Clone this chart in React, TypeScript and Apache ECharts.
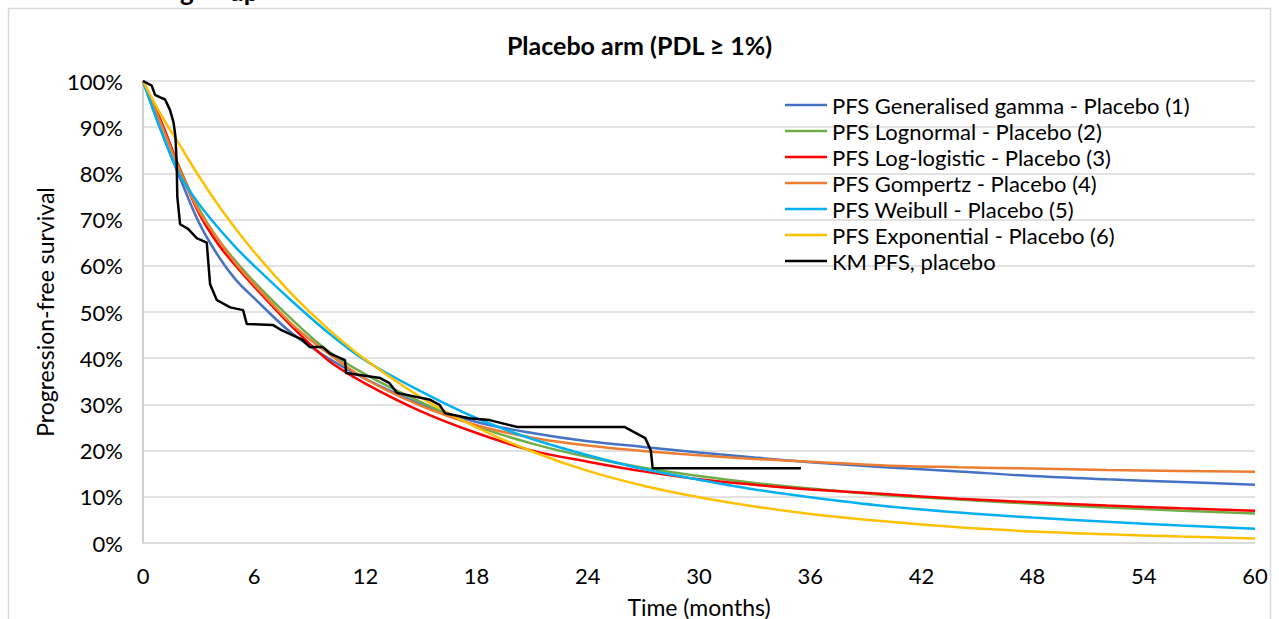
import React, { useEffect, useRef } from "react";
import * as echarts from "echarts";

const months = [0, 1, 2, 3, 4, 5, 6, 8, 10, 12, 15, 18, 21, 24, 27, 30, 33, 36, 40, 44, 48, 52, 56, 60];

const genGamma = [100, 89, 79, 69.5, 62.5, 57, 53, 45.5, 40, 35.5, 30, 26.2, 23.8, 22, 20.8, 19.6, 18.5, 17.5, 16.4, 15.5, 14.5, 13.8, 13.2, 12.6];
const lognormal = [100, 91, 81, 72.5, 66, 61, 56.5, 48.5, 41.5, 36.5, 30.5, 25.3, 21.5, 18.6, 16.3, 14.5, 13, 11.8, 10.4, 9.4, 8.5, 7.7, 7.0, 6.4];
const logLogistic = [100, 91, 80.7, 71.5, 65, 60, 55.5, 47, 39.5, 34.5, 28.5, 23.8, 20, 17.6, 15.5, 13.8, 12.6, 11.6, 10.6, 9.6, 8.8, 8.1, 7.5, 7.0];
const gompertz = [100, 90.5, 80.5, 72, 66, 60.5, 56, 47.5, 41, 35.5, 29.7, 25.5, 22.8, 21.1, 19.9, 19, 18.2, 17.6, 16.8, 16.4, 16.1, 15.8, 15.6, 15.4];
const weibull = [100, 89, 79.5, 73.5, 68.5, 64, 60, 52.5, 45.5, 39.5, 32.8, 27, 22.5, 19, 16, 13.7, 11.6, 9.9, 8.0, 6.6, 5.5, 4.6, 3.8, 3.1];
const exponential = [100, 92.5, 86, 79.5, 73.5, 68, 63, 54, 46.3, 39.7, 31.5, 25, 19.8, 15.6, 12.4, 9.9, 7.9, 6.3, 4.7, 3.4, 2.5, 1.9, 1.4, 1.0];

const kmTime = [0, 0.47, 0.65, 0.9, 1.19, 1.46, 1.65, 1.75, 1.82, 1.85, 2.0, 2.43, 2.9, 3.44, 3.62, 3.98, 4.7, 5.4, 5.6, 7.0, 7.5, 8.6, 9.0, 9.7, 10.1, 10.9, 10.96, 12.8, 13.3, 13.7, 15.5, 16.0, 16.3, 17.6, 18.7, 20.2, 26.0, 27.1, 27.4, 27.5, 35.5];
const kmSurv = [100, 99, 97, 96.5, 96, 93.7, 91, 88, 82, 75, 69, 68, 66, 65, 56, 52.6, 51, 50.4, 47.4, 47.2, 46, 44, 42.4, 42.4, 41, 39.6, 36.8, 35.7, 34.6, 32.5, 31, 29.9, 28.1, 27, 26.6, 25.1, 25.1, 22.7, 20, 16.2, 16.2];

const seriesNames = [
  "PFS Generalised gamma - Placebo (1)",
  "PFS Lognormal - Placebo (2)",
  "PFS Log-logistic - Placebo (3)",
  "PFS Gompertz - Placebo (4)",
  "PFS Weibull - Placebo (5)",
  "PFS Exponential - Placebo (6)",
  "KM PFS, placebo",
];
const seriesValues = [genGamma, lognormal, logLogistic, gompertz, weibull, exponential];
const colors = ["#4472C4", "#70AD47", "#FF0000", "#ED7D31", "#00B0F0", "#FFC000", "#000000"];
const xTicks = [0, 6, 12, 18, 24, 30, 36, 42, 48, 54, 60];

const FONT = "Lato";

export default function App() {
  const ref = useRef<HTMLDivElement>(null);
  useEffect(() => {
    const chart = echarts.init(ref.current as HTMLDivElement, null, { renderer: "svg" });
    const fitted = seriesValues.map((vals, i) => ({
      name: seriesNames[i],
      type: "line",
      data: months.map((m, j) => [m, vals[j]]),
      smooth: 0.35,
      symbol: "none",
      lineStyle: { width: 2.5, color: colors[i] },
      itemStyle: { color: colors[i] },
      z: 2,
    }));
    const km = {
      name: seriesNames[6],
      type: "line",
      data: kmTime.map((t, j) => [t, kmSurv[j]]),
      symbol: "none",
      lineStyle: { width: 2.5, color: colors[6] },
      itemStyle: { color: colors[6] },
      z: 3,
    };
    chart.setOption({
      animation: false,
      backgroundColor: "#ffffff",
      textStyle: { fontFamily: FONT },
      title: {
        text: "Placebo arm (PDL \u2265 1%)",
        left: "center",
        top: 27,
        textStyle: { fontFamily: FONT, fontSize: 25, fontWeight: "bold", color: "#000" },
      },
      graphic: [
        {
          type: "rect",
          shape: { x: 8.5, y: 8.5, width: 1262, height: 640 },
          style: { fill: "none", stroke: "#d9d9d9", lineWidth: 1.5 },
          silent: true,
        },
        {
          type: "text",
          x: 180,
          y: 4,
          style: { text: "g", font: `bold 26px ${FONT}`, fill: "#000", textVerticalAlign: "bottom" },
        },
        {
          type: "text",
          x: 229,
          y: 4,
          style: { text: "up", font: `bold 26px ${FONT}`, fill: "#000", textVerticalAlign: "bottom" },
        },
      ],
      legend: {
        orient: "vertical",
        left: 785,
        top: 94,
        padding: 0,
        itemWidth: 42,
        itemHeight: 2.5,
        itemGap: 4,
        itemTextGap: 2,
        icon: "rect",
        data: seriesNames,
        textStyle: { fontFamily: FONT, fontSize: 22, color: "#000", lineHeight: 22 },
      },
      grid: { left: 143, right: 24, top: 81, bottom: 76, containLabel: false, outerBoundsMode: "none" },
      xAxis: {
        type: "value",
        min: 0,
        max: 60,
        interval: 6,
        name: "Time (months)",
        nameLocation: "middle",
        nameGap: 52,
        nameTextStyle: { fontFamily: FONT, fontSize: 23, color: "#000" },
        axisLine: { show: true, lineStyle: { color: "#d9d9d9", width: 1.5 } },
        axisTick: { show: false },
        splitLine: { show: false },
        axisLabel: {
          margin: 21,
          fontFamily: FONT,
          fontSize: 22,
          color: "#000",
          customValues: xTicks,
        },
      },
      yAxis: {
        type: "value",
        min: 0,
        max: 100,
        interval: 10,
        name: "Progression-free survival",
        nameLocation: "middle",
        nameGap: 84,
        nameTextStyle: { fontFamily: FONT, fontSize: 23, color: "#000" },
        axisLine: { show: true, lineStyle: { color: "#bfbfbf", width: 1.5 } },
        axisTick: { show: false },
        splitLine: { show: true, lineStyle: { color: "#d9d9d9", width: 1.5 } },
        axisLabel: {
          margin: 20,
          fontFamily: FONT,
          fontSize: 22,
          color: "#000",
          formatter: "{value}%",
        },
      },
      series: [...fitted, km],
    });
    return () => chart.dispose();
  }, []);
  return (
    <div
      ref={ref}
      style={{ position: "absolute", left: 0, top: 0, width: 1279, height: 619, background: "#fff" }}
    />
  );
}
